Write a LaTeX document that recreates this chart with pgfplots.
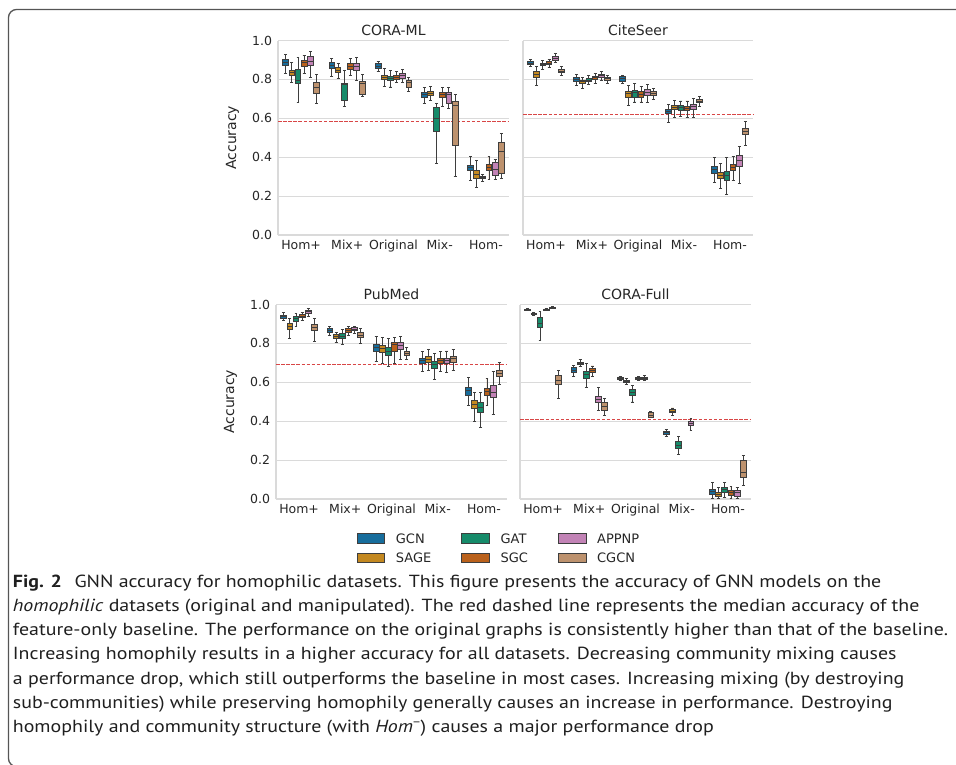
\documentclass[border=0pt]{standalone}
\usepackage{fontspec}
\setmainfont{DejaVu Sans}
\newfontfamily\capfont{PT Sans}
\usepackage{pgfplots}
\pgfplotsset{compat=1.18}
\usepgfplotslibrary{statistics}

\definecolor{cGCN}{RGB}{23,109,156}
\definecolor{cSAGE}{RGB}{195,136,32}
\definecolor{cGAT}{RGB}{22,139,106}
\definecolor{cSGC}{RGB}{186,97,27}
\definecolor{cAPPNP}{RGB}{194,131,182}
\definecolor{cCGCN}{RGB}{189,146,110}
\definecolor{edgegray}{RGB}{62,62,62}
\definecolor{gridgray}{RGB}{218,218,218}
\definecolor{basered}{RGB}{216,70,70}
\definecolor{framegray}{RGB}{85,85,85}
\definecolor{txt}{RGB}{38,38,38}

\newcommand\bp[7]{\addplot[bpstyle,fill=#2,boxplot prepared={draw position=#1,lower whisker=#3,lower quartile=#4,median=#5,upper quartile=#6,upper whisker=#7}] coordinates {};}

\pgfplotsset{
 bpstyle/.style={draw=edgegray, line width=0.9pt, solid, forget plot, boxplot/draw direction=y, boxplot/box extend=0.125, boxplot/whisker extend=0.0625},
 panel/.style={scale only axis, height=194.5pt, xmin=-0.5, xmax=4.5, ymin=0, ymax=1,
   xtick={0,1,2,3,4}, xticklabels={Hom+,Mix+,Original,Mix-,Hom-},
   ytick={0,0.2,0.4,0.6,0.8,1.0},
   ymajorgrids, major grid style={gridgray, line width=1.1pt},
   axis x line*=bottom, axis y line*=left, axis line style={-, gridgray, line width=1.3pt},
   major tick length=0pt,
   /pgf/number format/assume math mode=true,
   tick label style={font=\fontsize{12.5}{14}\selectfont, text=txt},
   xticklabel style={inner sep=0pt, anchor=north, yshift=-5pt},
   yticklabel style={inner sep=0pt, anchor=east, xshift=-5.7pt, /pgf/number format/fixed, /pgf/number format/fixed zerofill, /pgf/number format/precision=1},
   every axis title shift=0pt,
   title style={font=\fontsize{14}{16}\selectfont, text=txt, at={(0.5,1)}, anchor=base, yshift=5pt, inner sep=0pt},
   ylabel style={font=\fontsize{14}{16}\selectfont, text=txt, at={(axis description cs:0,0.5)}, anchor=base, yshift=42pt, inner sep=0pt},
   clip=false,
 },
 noyt/.style={yticklabels={}},
 baseln/.style={basered, line width=1pt, dash pattern=on 3.5pt off 1.6pt, forget plot},
}

\newsavebox\lthree
\begin{document}%
\sbox\lthree{\capfont\fontsize{17.5}{20}\selectfont feature-only baseline. The performance on the original graphs is consistently higher than that of the baseline.}%
\pgfmathsetmacro\capscale{935.3/\wd\lthree}%
\begin{tikzpicture}
\useasboundingbox (0pt,0pt) rectangle (956pt,-764pt);
\begin{scope}
\clip (0pt,0pt) rectangle (956pt,-764pt);
\draw[framegray, line width=1.3pt, rounded corners=8pt] (8.5pt,-9.5pt) rectangle (990pt,-766.5pt);
\end{scope}

% ---------------- CORA-ML
\begin{axis}[panel, width=231pt, at={(278pt,-235pt)}, anchor=south west, title={CORA-ML}, ylabel={Accuracy}]
\addplot[baseln] coordinates {(-0.5,0.583) (4.5,0.583)};
\bp{-0.3333}{cGCN}{0.831}{0.872}{0.887}{0.903}{0.928}
\bp{-0.2}{cSAGE}{0.786}{0.822}{0.834}{0.846}{0.885}
\bp{-0.0667}{cGAT}{0.680}{0.779}{0.795}{0.851}{0.911}
\bp{0.0667}{cSGC}{0.829}{0.868}{0.885}{0.897}{0.923}
\bp{0.2}{cAPPNP}{0.812}{0.872}{0.891}{0.920}{0.945}
\bp{0.3333}{cCGCN}{0.675}{0.728}{0.757}{0.783}{0.826}
\bp{0.6667}{cGCN}{0.817}{0.855}{0.872}{0.885}{0.908}
\bp{0.8}{cSAGE}{0.805}{0.834}{0.848}{0.860}{0.882}
\bp{0.9333}{cGAT}{0.663}{0.692}{0.776}{0.779}{0.846}
\bp{1.0667}{cSGC}{0.822}{0.851}{0.868}{0.880}{0.908}
\bp{1.2}{cAPPNP}{0.795}{0.846}{0.865}{0.882}{0.915}
\bp{1.3333}{cCGCN}{0.711}{0.723}{0.778}{0.791}{0.826}
\bp{1.6667}{cGCN}{0.839}{0.856}{0.868}{0.880}{0.894}
\bp{1.8}{cSAGE}{0.766}{0.800}{0.812}{0.822}{0.855}
\bp{1.9333}{cGAT}{0.761}{0.795}{0.805}{0.817}{0.846}
\bp{2.0667}{cSGC}{0.783}{0.800}{0.812}{0.822}{0.843}
\bp{2.2}{cAPPNP}{0.783}{0.805}{0.821}{0.831}{0.851}
\bp{2.3333}{cCGCN}{0.740}{0.761}{0.783}{0.795}{0.812}
\bp{2.6667}{cGCN}{0.675}{0.709}{0.723}{0.735}{0.757}
\bp{2.8}{cSAGE}{0.692}{0.715}{0.728}{0.740}{0.766}
\bp{2.9333}{cGAT}{0.368}{0.530}{0.600}{0.658}{0.675}
\bp{3.0667}{cSGC}{0.663}{0.706}{0.723}{0.735}{0.757}
\bp{3.2}{cAPPNP}{0.651}{0.675}{0.723}{0.735}{0.757}
\bp{3.3333}{cCGCN}{0.301}{0.462}{0.667}{0.689}{0.723}
\bp{3.6667}{cGCN}{0.282}{0.330}{0.347}{0.359}{0.402}
\bp{3.8}{cSAGE}{0.244}{0.292}{0.313}{0.330}{0.381}
\bp{3.9333}{cGAT}{0.275}{0.289}{0.296}{0.303}{0.313}
\bp{4.0667}{cSGC}{0.287}{0.330}{0.347}{0.364}{0.402}
\bp{4.2}{cAPPNP}{0.287}{0.304}{0.338}{0.373}{0.390}
\bp{4.3333}{cCGCN}{0.292}{0.318}{0.432}{0.475}{0.521}
\end{axis}

% ---------------- CiteSeer
\begin{axis}[panel, noyt, width=230pt, at={(523pt,-235pt)}, anchor=south west, title={CiteSeer}]
\addplot[baseln] coordinates {(-0.5,0.621) (4.5,0.621)};
\bp{-0.3333}{cGCN}{0.867}{0.879}{0.884}{0.893}{0.903}
\bp{-0.2}{cSAGE}{0.769}{0.812}{0.826}{0.843}{0.865}
\bp{-0.0667}{cGAT}{0.851}{0.870}{0.877}{0.884}{0.897}
\bp{0.0667}{cSGC}{0.863}{0.875}{0.884}{0.892}{0.903}
\bp{0.2}{cAPPNP}{0.889}{0.899}{0.909}{0.920}{0.932}
\bp{0.3333}{cCGCN}{0.822}{0.834}{0.843}{0.851}{0.865}
\bp{0.6667}{cGCN}{0.769}{0.788}{0.798}{0.809}{0.826}
\bp{0.8}{cSAGE}{0.754}{0.779}{0.788}{0.797}{0.812}
\bp{0.9333}{cGAT}{0.774}{0.788}{0.797}{0.805}{0.821}
\bp{1.0667}{cSGC}{0.781}{0.800}{0.809}{0.817}{0.831}
\bp{1.2}{cAPPNP}{0.795}{0.809}{0.819}{0.826}{0.839}
\bp{1.3333}{cCGCN}{0.779}{0.795}{0.803}{0.812}{0.822}
\bp{1.6667}{cGCN}{0.779}{0.791}{0.803}{0.814}{0.822}
\bp{1.8}{cSAGE}{0.668}{0.709}{0.726}{0.740}{0.771}
\bp{1.9333}{cGAT}{0.684}{0.709}{0.732}{0.744}{0.779}
\bp{2.0667}{cSGC}{0.684}{0.709}{0.723}{0.740}{0.762}
\bp{2.2}{cAPPNP}{0.681}{0.720}{0.735}{0.749}{0.774}
\bp{2.3333}{cCGCN}{0.697}{0.720}{0.728}{0.737}{0.752}
\bp{2.6667}{cGCN}{0.581}{0.624}{0.634}{0.646}{0.672}
\bp{2.8}{cSAGE}{0.603}{0.643}{0.655}{0.667}{0.694}
\bp{2.9333}{cGAT}{0.607}{0.641}{0.655}{0.667}{0.689}
\bp{3.0667}{cSGC}{0.603}{0.638}{0.650}{0.662}{0.689}
\bp{3.2}{cAPPNP}{0.603}{0.646}{0.660}{0.672}{0.701}
\bp{3.3333}{cCGCN}{0.663}{0.679}{0.687}{0.696}{0.711}
\bp{3.6667}{cGCN}{0.272}{0.318}{0.335}{0.352}{0.398}
\bp{3.8}{cSAGE}{0.239}{0.291}{0.304}{0.321}{0.369}
\bp{3.9333}{cGAT}{0.210}{0.282}{0.308}{0.326}{0.398}
\bp{4.0667}{cSGC}{0.279}{0.330}{0.347}{0.361}{0.403}
\bp{4.2}{cAPPNP}{0.265}{0.352}{0.381}{0.410}{0.455}
\bp{4.3333}{cCGCN}{0.458}{0.515}{0.532}{0.549}{0.583}
\end{axis}

% ---------------- PubMed
\begin{axis}[panel, width=231pt, at={(276pt,-499pt)}, anchor=south west, title={PubMed}, ylabel={Accuracy},
  legend columns=3,
  legend cell align=left,
  legend image code/.code={\draw[#1] (0pt,-4.7pt) rectangle (27.6pt,4.7pt); \path (38.3pt,0pt);},
  legend style={at={(0.3494,-0.1758)}, anchor=north west, draw=none, fill=none, inner sep=0pt, outer sep=0pt,
    font=\fontsize{13}{15}\selectfont, text=txt, nodes={inner sep=0pt, text depth=0pt}, row sep=9.4pt,
    /tikz/every even column/.append style={column sep=30pt}}]
\addplot[baseln] coordinates {(-0.5,0.694) (4.5,0.694)};
\bp{-0.3333}{cGCN}{0.916}{0.930}{0.937}{0.944}{0.957}
\bp{-0.2}{cSAGE}{0.824}{0.870}{0.887}{0.901}{0.930}
\bp{-0.0667}{cGAT}{0.889}{0.915}{0.926}{0.937}{0.952}
\bp{0.0667}{cSGC}{0.918}{0.932}{0.938}{0.947}{0.957}
\bp{0.2}{cAPPNP}{0.940}{0.952}{0.962}{0.969}{0.978}
\bp{0.3333}{cCGCN}{0.812}{0.867}{0.884}{0.896}{0.926}
\bp{0.6667}{cGCN}{0.841}{0.858}{0.867}{0.875}{0.887}
\bp{0.8}{cSAGE}{0.803}{0.827}{0.836}{0.844}{0.858}
\bp{0.9333}{cGAT}{0.793}{0.827}{0.838}{0.850}{0.870}
\bp{1.0667}{cSGC}{0.841}{0.858}{0.867}{0.875}{0.889}
\bp{1.2}{cAPPNP}{0.850}{0.865}{0.874}{0.882}{0.889}
\bp{1.3333}{cCGCN}{0.798}{0.829}{0.841}{0.855}{0.875}
\bp{1.6667}{cGCN}{0.708}{0.761}{0.778}{0.795}{0.838}
\bp{1.8}{cSAGE}{0.699}{0.756}{0.773}{0.790}{0.829}
\bp{1.9333}{cGAT}{0.679}{0.738}{0.761}{0.778}{0.824}
\bp{2.0667}{cSGC}{0.696}{0.761}{0.793}{0.807}{0.829}
\bp{2.2}{cAPPNP}{0.716}{0.768}{0.790}{0.807}{0.836}
\bp{2.3333}{cCGCN}{0.716}{0.738}{0.750}{0.761}{0.781}
\bp{2.6667}{cGCN}{0.658}{0.699}{0.711}{0.725}{0.759}
\bp{2.8}{cSAGE}{0.662}{0.701}{0.718}{0.733}{0.769}
\bp{2.9333}{cGAT}{0.615}{0.670}{0.691}{0.708}{0.747}
\bp{3.0667}{cSGC}{0.656}{0.699}{0.713}{0.725}{0.759}
\bp{3.2}{cAPPNP}{0.650}{0.696}{0.711}{0.725}{0.761}
\bp{3.3333}{cCGCN}{0.662}{0.704}{0.721}{0.735}{0.769}
\bp{3.6667}{cGCN}{0.479}{0.533}{0.556}{0.576}{0.627}
\bp{3.8}{cSAGE}{0.400}{0.465}{0.487}{0.508}{0.547}
\bp{3.9333}{cGAT}{0.368}{0.444}{0.470}{0.496}{0.550}
\bp{4.0667}{cSGC}{0.479}{0.533}{0.554}{0.571}{0.619}
\bp{4.2}{cAPPNP}{0.434}{0.520}{0.550}{0.585}{0.656}
\bp{4.3333}{cCGCN}{0.590}{0.631}{0.644}{0.662}{0.701}
\addlegendimage{fill=cGCN, draw=edgegray, line width=0.9pt}\addlegendentry{GCN}
\addlegendimage{fill=cGAT, draw=edgegray, line width=0.9pt}\addlegendentry{GAT}
\addlegendimage{fill=cAPPNP, draw=edgegray, line width=0.9pt}\addlegendentry{APPNP}
\addlegendimage{fill=cSAGE, draw=edgegray, line width=0.9pt}\addlegendentry{SAGE}
\addlegendimage{fill=cSGC, draw=edgegray, line width=0.9pt}\addlegendentry{SGC}
\addlegendimage{fill=cCGCN, draw=edgegray, line width=0.9pt}\addlegendentry{CGCN}
\end{axis}

% ---------------- CORA-Full
\begin{axis}[panel, noyt, width=231pt, at={(520pt,-499pt)}, anchor=south west, title={CORA-Full}]
\addplot[baseln] coordinates {(-0.5,0.409) (4.5,0.409)};
\bp{-0.3333}{cGCN}{0.968}{0.972}{0.974}{0.977}{0.979}
\bp{-0.2}{cSAGE}{0.946}{0.949}{0.952}{0.955}{0.958}
\bp{-0.0667}{cGAT}{0.815}{0.880}{0.904}{0.932}{0.964}
\bp{0.0667}{cSGC}{0.967}{0.970}{0.973}{0.976}{0.979}
\bp{0.2}{cAPPNP}{0.978}{0.980}{0.983}{0.985}{0.988}
\bp{0.3333}{cCGCN}{0.516}{0.588}{0.610}{0.636}{0.662}
\bp{0.6667}{cGCN}{0.632}{0.653}{0.663}{0.674}{0.687}
\bp{0.8}{cSAGE}{0.679}{0.691}{0.697}{0.704}{0.718}
\bp{0.9333}{cGAT}{0.573}{0.619}{0.639}{0.656}{0.699}
\bp{1.0667}{cSGC}{0.632}{0.650}{0.660}{0.670}{0.684}
\bp{1.2}{cAPPNP}{0.455}{0.496}{0.513}{0.528}{0.571}
\bp{1.3333}{cCGCN}{0.431}{0.456}{0.474}{0.496}{0.516}
\bp{1.6667}{cGCN}{0.609}{0.614}{0.621}{0.627}{0.632}
\bp{1.8}{cSAGE}{0.588}{0.598}{0.605}{0.612}{0.619}
\bp{1.9333}{cGAT}{0.499}{0.533}{0.550}{0.562}{0.585}
\bp{2.0667}{cSGC}{0.609}{0.614}{0.621}{0.626}{0.632}
\bp{2.2}{cAPPNP}{0.610}{0.615}{0.622}{0.627}{0.633}
\bp{2.3333}{cCGCN}{0.417}{0.421}{0.432}{0.444}{0.448}
\bp{2.6667}{cGCN}{0.320}{0.333}{0.340}{0.349}{0.359}
\bp{2.8}{cSAGE}{0.431}{0.443}{0.451}{0.458}{0.468}
\bp{2.9333}{cGAT}{0.231}{0.260}{0.277}{0.294}{0.320}
\bp{3.2}{cAPPNP}{0.350}{0.376}{0.388}{0.400}{0.414}
\bp{3.6667}{cGCN}{0.003}{0.026}{0.038}{0.051}{0.085}
\bp{3.8}{cSAGE}{0.003}{0.012}{0.026}{0.034}{0.060}
\bp{3.9333}{cGAT}{0.009}{0.034}{0.050}{0.058}{0.085}
\bp{4.0667}{cSGC}{0.003}{0.017}{0.034}{0.046}{0.063}
\bp{4.2}{cAPPNP}{0.003}{0.015}{0.032}{0.046}{0.060}
\bp{4.3333}{cCGCN}{0.072}{0.109}{0.135}{0.197}{0.222}
\end{axis}

% ---------------- caption
\tikzset{capline/.style={anchor=base west, inner sep=0pt, text=black!88, font=\capfont\fontsize{17.5}{20}\selectfont, xscale=\capscale}}
\node[capline] at (12.7pt,-587.3pt) {\textbf{Fig. 2}\hspace{11pt}GNN accuracy for homophilic datasets. This figure presents the accuracy of GNN models on the};
\node[capline] at (12.7pt,-611.5pt) {\textit{homophilic} datasets (original and manipulated). The red dashed line represents the median accuracy of the};
\node[capline] at (12.7pt,-635.7pt) {feature-only baseline. The performance on the original graphs is consistently higher than that of the baseline.};
\node[capline] at (12.7pt,-659.9pt) {Increasing homophily results in a higher accuracy for all datasets. Decreasing community mixing causes};
\node[capline] at (12.7pt,-684.0pt) {a performance drop, which still outperforms the baseline in most cases. Increasing mixing (by destroying};
\node[capline] at (12.7pt,-708.2pt) {sub-communities) while preserving homophily generally causes an increase in performance. Destroying};
\node[capline] at (12.7pt,-732.4pt) {homophily and community structure (with \textit{Hom}\textsuperscript{\char"2212}) causes a major performance drop};
\end{tikzpicture}
\end{document}
